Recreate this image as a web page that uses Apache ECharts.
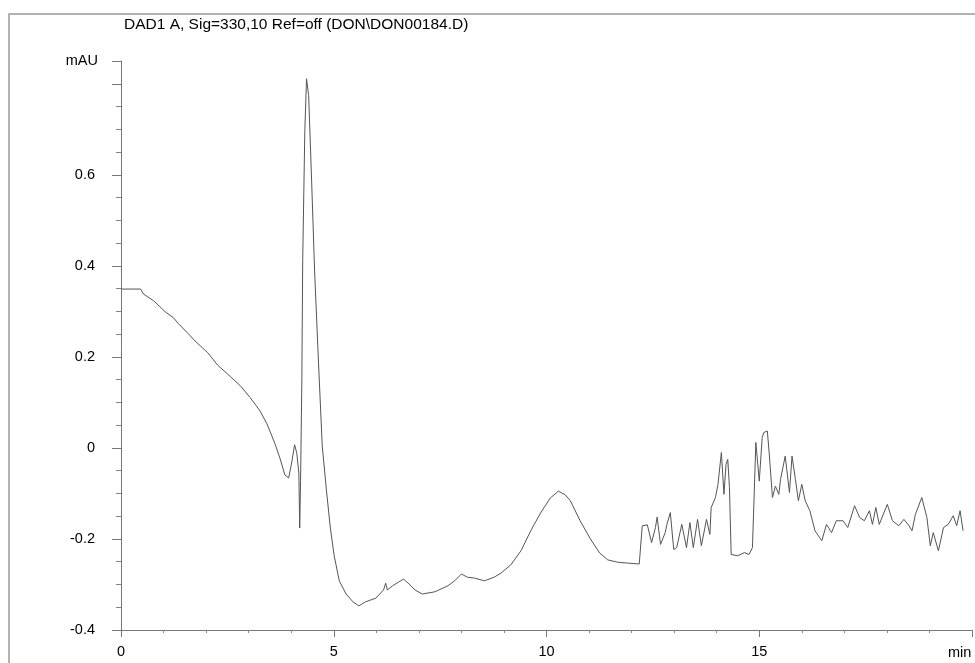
<!DOCTYPE html>
<html>
<head>
<meta charset="utf-8">
<title>DAD1 A chromatogram</title>
<script src="https://cdn.jsdelivr.net/npm/echarts@6/dist/echarts.min.js"></script>
<style>
  html, body { margin: 0; padding: 0; background: #fff; }
  #chart { width: 975px; height: 663px; }
</style>
</head>
<body>
<div id="chart"></div>
<script>
// retention time (min) and detector signal (mAU)
var times = [
  0, 0.19, 0.46, 0.53, 0.77, 1.04, 1.23, 1.35, 1.58, 1.74, 2.04, 2.27, 2.58, 2.81, 3.04, 3.27,
  3.43, 3.62, 3.74, 3.85, 3.94, 4.01, 4.08, 4.13, 4.18, 4.20, 4.22, 4.25, 4.27, 4.32, 4.36, 4.41,
  4.48, 4.55, 4.64, 4.73, 4.83, 4.92, 5.01, 5.13, 5.29, 5.45, 5.59, 5.75, 5.99, 6.17, 6.22, 6.26,
  6.38, 6.52, 6.64, 6.77, 6.91, 7.08, 7.38, 7.68, 7.84, 8.00, 8.14, 8.31, 8.54, 8.77, 8.93, 9.16,
  9.40, 9.63, 9.86, 10.09, 10.28, 10.44, 10.56, 10.79, 11.02, 11.25, 11.44, 11.67, 11.90, 12.18,
  12.21, 12.25, 12.29, 12.37, 12.47, 12.56, 12.60, 12.68, 12.79, 12.83, 12.91, 12.99, 13.06, 13.18,
  13.29, 13.37, 13.45, 13.55, 13.64, 13.76, 13.84, 13.87, 13.97, 14.03, 14.11, 14.17, 14.22, 14.26,
  14.30, 14.34, 14.49, 14.65, 14.76, 14.84, 14.92, 15.00, 15.07, 15.11, 15.19, 15.23, 15.31, 15.38,
  15.46, 15.50, 15.61, 15.71, 15.77, 15.85, 15.92, 16.00, 16.08, 16.19, 16.31, 16.47, 16.58, 16.70,
  16.81, 16.97, 17.08, 17.24, 17.36, 17.47, 17.59, 17.66, 17.74, 17.82, 18.01, 18.13, 18.28, 18.40,
  18.52, 18.59, 18.67, 18.82, 18.94, 19.02, 19.09, 19.21, 19.33, 19.44, 19.56, 19.64, 19.72, 19.79
];
var signal = [
  0.349, 0.349, 0.349, 0.338, 0.323, 0.299, 0.286, 0.273, 0.251, 0.235, 0.209, 0.182, 0.156, 0.136, 0.110, 0.081,
  0.053, 0.009, -0.024, -0.059, -0.066, -0.033, 0.007, -0.011, -0.055, -0.176, -0.073, 0.147, 0.411, 0.697, 0.811, 0.774,
  0.587, 0.389, 0.191, 0.004, -0.095, -0.176, -0.237, -0.292, -0.321, -0.338, -0.347, -0.338, -0.330, -0.312, -0.297, -0.312,
  -0.303, -0.295, -0.288, -0.299, -0.312, -0.321, -0.316, -0.303, -0.292, -0.277, -0.284, -0.286, -0.292, -0.284, -0.275, -0.257,
  -0.226, -0.182, -0.143, -0.110, -0.095, -0.103, -0.116, -0.160, -0.198, -0.231, -0.246, -0.251, -0.253, -0.255,
  -0.254, -0.171, -0.175, -0.169, -0.208, -0.175, -0.152, -0.212, -0.186, -0.168, -0.142, -0.223, -0.219, -0.168,
  -0.219, -0.164, -0.219, -0.157, -0.215, -0.157, -0.190, -0.131, -0.109, -0.080, -0.010, -0.102, -0.036, -0.025,
  -0.087, -0.234, -0.237, -0.230, -0.234, -0.219, 0.012, -0.073, 0.023, 0.034, 0.037, -0.007, -0.109, -0.084,
  -0.102, -0.069, -0.018, -0.098, -0.018, -0.069, -0.116, -0.080, -0.116, -0.138, -0.182, -0.204, -0.168, -0.186,
  -0.160, -0.160, -0.175, -0.127, -0.153, -0.160, -0.138, -0.168, -0.131, -0.168, -0.124, -0.160, -0.171, -0.157,
  -0.171, -0.182, -0.146, -0.109, -0.153, -0.215, -0.186, -0.226, -0.175, -0.168, -0.149, -0.171, -0.138, -0.182
];
var yTickLabels = ['-0.4', '-0.2', '0', '0.2', '0.4', '0.6'];
var xTickLabels = ['0', '5', '10', '15'];

var points = times.map(function (t, i) { return [t, signal[i]]; });

var chart = echarts.init(document.getElementById('chart'));
var font = 'Liberation Sans, Arial, sans-serif';

chart.setOption({
  animation: false,
  backgroundColor: '#fff',
  title: {
    text: 'DAD1 A, Sig=330,10 Ref=off (DON\\DON00184.D)',
    left: 124,
    top: 17,
    padding: 0,
    textStyle: { fontFamily: font, fontSize: 15.5, fontWeight: 'normal', color: '#000' }
  },
  graphic: [{
    type: 'rect',
    shape: { x: 9, y: 14, width: 1000, height: 700 },
    style: { fill: 'none', stroke: '#999', lineWidth: 1.5 },
    silent: true
  }],
  grid: { left: 121, right: -9, top: 61, bottom: 33 },
  xAxis: {
    type: 'value',
    min: 0,
    max: 20,
    interval: 5,
    name: 'min',
    nameLocation: 'end',
    nameGap: -24,
    nameTextStyle: { fontFamily: font, fontSize: 14.5, color: '#000', verticalAlign: 'top', padding: [15, 0, 0, 0] },
    axisLine: { onZero: false, lineStyle: { color: '#777', width: 1 } },
    axisTick: { length: 7, lineStyle: { color: '#777' } },
    minorTick: { show: true, splitNumber: 5, length: 3, lineStyle: { color: '#888' } },
    axisLabel: {
      margin: 14,
      fontFamily: font,
      fontSize: 14.5,
      color: '#000',
      formatter: function (v) {
        var s = String(Math.round(v * 100) / 100);
        return xTickLabels.indexOf(s) >= 0 ? s : '';
      }
    },
    splitLine: { show: false }
  },
  yAxis: {
    type: 'value',
    min: -0.4,
    max: 0.85,
    interval: 0.2,
    name: 'mAU',
    nameLocation: 'end',
    nameGap: 0,
    nameTextStyle: { fontFamily: font, fontSize: 14.5, color: '#000', align: 'right', verticalAlign: 'middle', padding: [0, 23, 0, 0] },
    axisLine: { show: true, onZero: false, lineStyle: { color: '#777', width: 1 } },
    axisTick: { show: true, length: 9, lineStyle: { color: '#777' } },
    minorTick: { show: true, splitNumber: 4, length: 5, lineStyle: { color: '#888' } },
    axisLabel: {
      margin: 26,
      fontFamily: font,
      fontSize: 14.5,
      color: '#000',
      formatter: function (v) {
        var s = String(Math.round(v * 100) / 100);
        return yTickLabels.indexOf(s) >= 0 ? s : '';
      }
    },
    splitLine: { show: false }
  },
  series: [{
    type: 'line',
    data: points,
    showSymbol: false,
    lineStyle: { color: '#555', width: 1 },
    clip: true
  }]
});
</script>
</body>
</html>
